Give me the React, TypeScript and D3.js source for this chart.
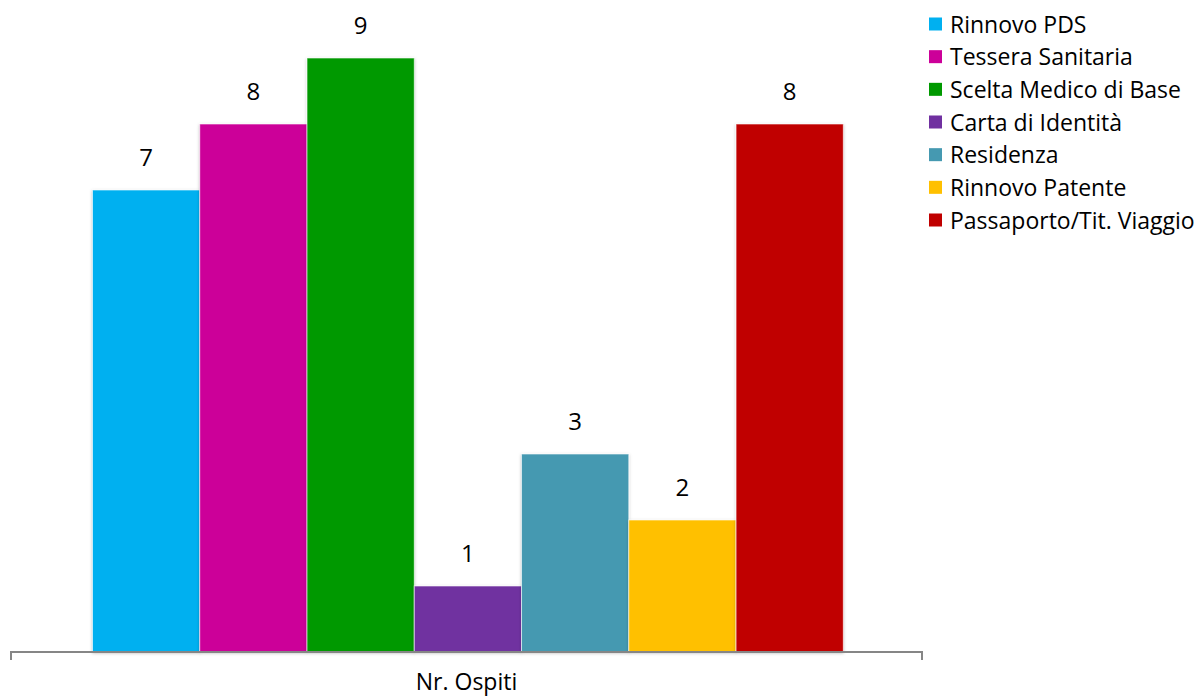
import React from "react";
import * as d3 from "d3";

const categories = [
  "Rinnovo PDS",
  "Tessera Sanitaria",
  "Scelta Medico di Base",
  "Carta di Identità",
  "Residenza",
  "Rinnovo Patente",
  "Passaporto/Tit. Viaggio",
];
const values = [7, 8, 9, 1, 3, 2, 8];
const colors = ["#00B0F0", "#CC0099", "#009900", "#7030A0", "#4599B1", "#FFC000", "#C00000"];
const axisLabel = "Nr. Ospiti";

const W = 1203;
const H = 698;
const FONT = "'Open Sans', Lato, sans-serif";

export default function App() {
  const plotLeft = 11;
  const plotRight = 922;
  const baseY = 652;
  const y = d3.scaleLinear().domain([0, 9]).range([baseY, 58]);
  const x = d3
    .scaleBand<string>()
    .domain(categories)
    .range([92.5, 843.3])
    .paddingInner(0)
    .paddingOuter(0);

  const legendY = d3.scalePoint<string>().domain(categories).range([24, 220]);

  return (
    <svg
      width={W}
      height={H}
      style={{ position: "absolute", left: 0, top: 0, background: "#fff" }}
      fontFamily={FONT}
    >
      <defs>
        <filter id="sh" x="-10%" y="-10%" width="120%" height="120%">
          <feDropShadow dx="0" dy="1" stdDeviation="1.5" floodColor="#000" floodOpacity="0.25" />
        </filter>
      </defs>
      <g>
        {categories.map((c, i) => (
          <rect
            key={c}
            x={x(c)!}
            y={y(values[i])}
            width={x.bandwidth()}
            height={baseY - y(values[i])}
            fill={colors[i]}
            stroke="#ffffff"
            strokeOpacity={0.6}
            strokeWidth={1}
            filter="url(#sh)"
          />
        ))}
      </g>
      <path
        d={`M${plotLeft},${660}V${baseY}H${plotRight}V${660}`}
        fill="none"
        stroke="#868686"
        strokeWidth={2}
      />
      {categories.map((c, i) => (
        <text
          key={c}
          x={x(c)! + x.bandwidth() / 2}
          y={y(values[i]) - 24}
          textAnchor="middle"
          fontSize={24}
          fill="#000"
        >
          {values[i]}
        </text>
      ))}
      <text x={(plotLeft + plotRight) / 2} y={690} textAnchor="middle" fontSize={23} fill="#000">
        {axisLabel}
      </text>
      {categories.map((c, i) => (
        <g key={c} transform={`translate(0,${legendY(c)})`}>
          <rect x={929} y={-6.5} width={13} height={13} fill={colors[i]} />
          <text x={950} y={8.5} fontSize={23} fill="#000">
            {c}
          </text>
        </g>
      ))}
    </svg>
  );
}
